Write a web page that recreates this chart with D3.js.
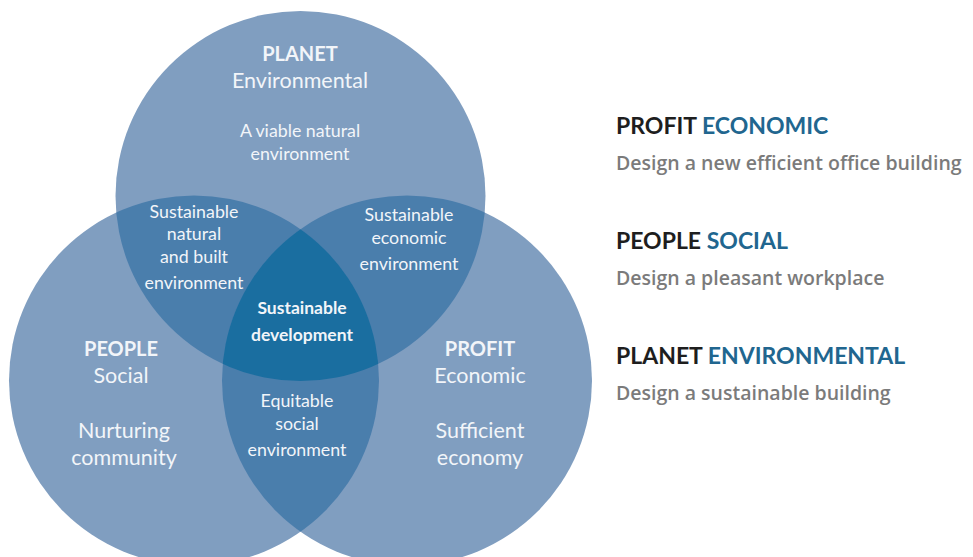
<!DOCTYPE html>
<html>
<head>
<meta charset="utf-8">
<script src="https://cdn.jsdelivr.net/npm/d3@7"></script>
<style>
  body { margin: 0; background: #fff; }
  svg { display: block; font-family: Lato, "Open Sans", sans-serif; }
</style>
</head>
<body>
<svg width="973" height="557"></svg>
<script>
// three pillars: top, left, right
var pillars = ["PLANET", "PEOPLE", "PROFIT"];
var aspects = ["Environmental", "Social", "Economic"];
var goals = [["A viable natural", "environment"], ["Nurturing", "community"], ["Sufficient", "economy"]];

// overlap labels: planet+people, planet+profit, people+profit
var overlaps = [
    ["Sustainable", "natural", "and built", "environment"],
    ["Sustainable", "economic", "environment"],
    ["Equitable", "social", "environment"]
];
var centerLabel = ["Sustainable", "development"];

// legend on the right
var legendKeys = ["PROFIT", "PEOPLE", "PLANET"];
var legendWords = ["ECONOMIC", "SOCIAL", "ENVIRONMENTAL"];
var legendText = ["Design a new efficient office building", "Design a pleasant workplace", "Design a sustainable building"];

var svg = d3.select("svg");

var single = "#809ec0", twice = "#4a7eac", triple = "#1a6ea0";
var labelColor = "#f2f5f9";

// venn layout: equilateral triangle of centres
var cx = 300.5, cy = 319, side = 213, r = 185;
var angle = d3.scaleOrdinal().domain(pillars).range([-90, 150, 30]);
var circles = pillars.map(function (p) {
    var a = angle(p) * Math.PI / 180;
    var h = side / Math.sqrt(3);
    return {name: p, x: cx + h * Math.cos(a), y: cy + h * Math.sin(a)};
});

var defs = svg.append("defs");
circles.forEach(function (c, i) {
    defs.append("clipPath").attr("id", "clip" + i)
        .append("circle").attr("cx", c.x).attr("cy", c.y).attr("r", r);
});

var venn = svg.append("g");

venn.selectAll("circle.set")
    .data(circles)
    .enter().append("circle")
    .attr("class", "set")
    .attr("cx", function (d) { return d.x; })
    .attr("cy", function (d) { return d.y; })
    .attr("r", r)
    .style("fill", single);

var pairs = [[0, 1], [0, 2], [1, 2]];
pairs.forEach(function (p) {
    venn.append("circle")
        .attr("clip-path", "url(#clip" + p[0] + ")")
        .attr("cx", circles[p[1]].x)
        .attr("cy", circles[p[1]].y)
        .attr("r", r)
        .style("fill", twice);
});

venn.append("g").attr("clip-path", "url(#clip0)")
    .append("circle")
    .attr("clip-path", "url(#clip1)")
    .attr("cx", circles[2].x)
    .attr("cy", circles[2].y)
    .attr("r", r)
    .style("fill", triple);

function block(x, y, lines, size, weight, gap) {
    var t = svg.append("text")
        .attr("text-anchor", "middle")
        .style("fill", labelColor)
        .style("font-size", size + "px")
        .style("font-weight", weight);
    lines.forEach(function (l, i) {
        t.append("tspan").attr("x", x).attr("y", y + (gap[i] || 0)).text(l);
    });
}

// labels for each set
var titleSpots = [[300, 61], [121, 356], [480, 356]];
var goalSpots = [[300, 137], [124, 438], [480, 438]];
pillars.forEach(function (p, i) {
    block(titleSpots[i][0], titleSpots[i][1], [p], 20, 700, [0]);
    block(titleSpots[i][0], titleSpots[i][1] + 27, [aspects[i]], 21.5, 400, [0]);
    block(goalSpots[i][0], goalSpots[i][1], goals[i], i === 0 ? 17.8 : 21.5, 400, i === 0 ? [0, 23] : [0, 27]);
});

block(194, 218, overlaps[0], 17.8, 400, [0, 22, 45, 71]);
block(409, 221, overlaps[1], 17.8, 400, [0, 23, 49]);
block(297, 407, overlaps[2], 17.8, 400, [0, 23, 49]);
block(302, 314, centerLabel, 17.5, 700, [0, 27]);

// legend
var legend = svg.append("g").attr("transform", "translate(616,0)");
var rowY = d3.scalePoint().domain(legendKeys).range([134, 364]);
legendKeys.forEach(function (k, i) {
    var head = legend.append("text")
        .attr("y", rowY(k))
        .style("font-size", "23px")
        .style("font-weight", 700);
    head.append("tspan").style("fill", "#1e1e1e").text(k + " ");
    head.append("tspan").style("fill", "#21668f").text(legendWords[i]);
    legend.append("text")
        .attr("y", rowY(k) + 36)
        .style("font-family", "'Open Sans', sans-serif")
        .style("font-size", "19.5px")
        .style("font-weight", 600)
        .style("fill", "#7b7b7b")
        .text(legendText[i]);
});
</script>
</body>
</html>
